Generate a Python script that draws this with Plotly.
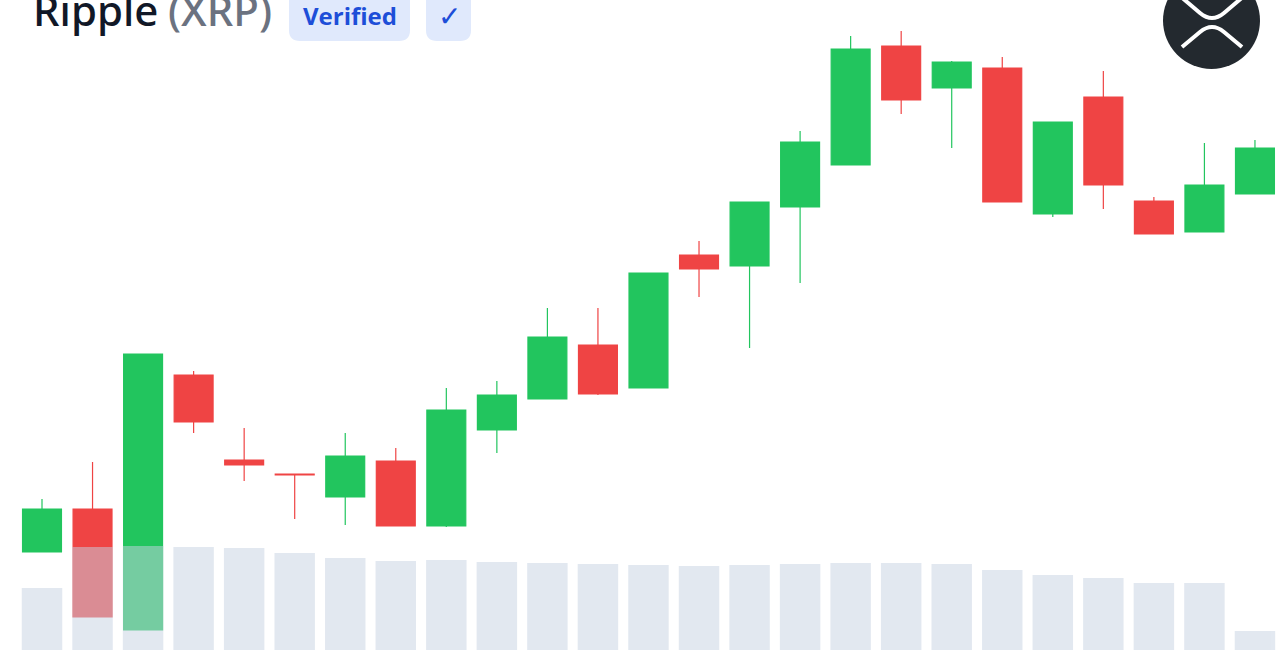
"""Ripple (XRP) candlestick card with volume bars."""

import plotly.graph_objects as go

WIDTH = 1280
HEIGHT = 650

# Candles (price axis runs 0-650)
opens = [98, 141, 20, 275, 190, 176, 153, 189, 124, 220, 251, 305, 262, 395, 384, 443, 485, 604, 562, 582, 436, 553, 449, 418, 456]
closes = [141, 33, 296, 228, 185, 175, 194, 124, 240, 255, 313, 256, 377, 381, 448, 508, 601, 550, 588, 448, 528, 465, 416, 465, 502]
highs = [151, 188, 296, 279, 222, 176, 217, 202, 262, 269, 342, 342, 377, 409, 448, 519, 614, 619, 589, 593, 528, 579, 453, 507, 510]
lows = [98, 33, 20, 217, 169, 131, 125, 124, 123, 197, 251, 255, 262, 353, 302, 367, 485, 536, 502, 448, 433, 441, 416, 418, 456]

# Volume bars (axis runs 0-650 as well)
volume = [62, 103, 104, 103, 102, 97, 92, 89, 90, 88, 87, 86, 85, 84, 85, 86, 87, 87, 86, 80, 75, 72, 67, 67, 19]

candle_index = list(range(len(opens)))

GREEN = "#22c55e"
RED = "#ef4444"
STEP = 50.54
FIRST_CENTER = 42


def px(x):
    return x / WIDTH


def py(y):
    return 1 - y / HEIGHT


def rounded_box(x0, y0, x1, y1, r):
    """SVG path of a rounded box, given in page pixels."""
    xa, xb, xc, xd = px(x0), px(x0 + r), px(x1 - r), px(x1)
    ya, yb, yc, yd = py(y0), py(y0 + r), py(y1 - r), py(y1)
    return (
        f"M {xb} {ya} L {xc} {ya} Q {xd} {ya} {xd} {yb} L {xd} {yc} Q {xd} {yd} {xc} {yd} "
        f"L {xb} {yd} Q {xa} {yd} {xa} {yc} L {xa} {yb} Q {xa} {ya} {xb} {ya} Z"
    )


def logo_stroke(points):
    """Straight, curve, straight stroke of the logo, in page pixels."""
    (a, b, c, d, e) = points
    return (
        f"M {px(a[0])} {py(a[1])} L {px(b[0])} {py(b[1])} "
        f"Q {px(c[0])} {py(c[1])} {px(d[0])} {py(d[1])} L {px(e[0])} {py(e[1])}"
    )


fig = go.Figure()

fig.add_trace(go.Candlestick(
    x=candle_index,
    open=opens,
    close=closes,
    high=highs,
    low=lows,
    whiskerwidth=0,
    increasing=dict(line=dict(color=GREEN, width=1.2), fillcolor=GREEN),
    decreasing=dict(line=dict(color=RED, width=1.2), fillcolor=RED),
    showlegend=False,
))

# Second y axis so the bars sit on top of the candles
fig.add_trace(go.Bar(
    x=candle_index,
    y=volume,
    yaxis="y2",
    marker=dict(color="rgb(199,211,227)", line=dict(width=0)),
    opacity=0.5,
    showlegend=False,
))

shapes = [
    dict(type="path", xref="paper", yref="paper", path=rounded_box(289, -12, 410, 41, 11),
         fillcolor="#e0e9fc", line=dict(width=0)),
    dict(type="path", xref="paper", yref="paper", path=rounded_box(426, -12, 471, 41, 11),
         fillcolor="#e0e9fc", line=dict(width=0)),
    dict(type="circle", xref="paper", yref="paper",
         x0=px(1163), x1=px(1260), y0=py(-28), y1=py(69),
         fillcolor="#23292f", line=dict(width=0)),
    dict(type="path", xref="paper", yref="paper",
         path=logo_stroke([(1180, -4), (1200, 13), (1212, 23), (1224, 13), (1244, -4)]),
         line=dict(color="white", width=4)),
    dict(type="path", xref="paper", yref="paper",
         path=logo_stroke([(1182, 47), (1200, 32), (1212, 22), (1224, 32), (1242, 47)]),
         line=dict(color="white", width=4)),
]

TITLE_FONT = "Noto Sans, Open Sans, sans-serif"
annotations = [
    dict(text="Ripple", x=px(31), y=py(10), font=dict(size=42, color="#111827", family=TITLE_FONT, weight=500)),
    dict(text="(XRP)", x=px(166), y=py(10), font=dict(size=42, color="#6b7280", family=TITLE_FONT, weight=500)),
    dict(text="<b>Verified</b>", x=px(301), y=py(15), font=dict(size=24, color="#1d4ed8")),
    dict(text="✓", x=px(436), y=py(15), font=dict(size=28, color="#1d4ed8")),
]
for note in annotations:
    note.update(xref="paper", yref="paper", xanchor="left", yanchor="middle", showarrow=False)

fig.update_layout(
    width=WIDTH,
    height=HEIGHT,
    margin=dict(l=0, r=0, t=0, b=0),
    paper_bgcolor="white",
    plot_bgcolor="white",
    font=dict(family="Open Sans, sans-serif"),
    boxgap=0.23,
    boxgroupgap=0,
    bargap=0.2,
    shapes=shapes,
    annotations=annotations,
    xaxis=dict(
        range=[-FIRST_CENTER / STEP, (WIDTH - FIRST_CENTER) / STEP],
        visible=False,
        rangeslider=dict(visible=False),
    ),
    yaxis=dict(range=[0, 650], visible=False),
    yaxis2=dict(range=[0, 650], visible=False, overlaying="y"),
)

# Default page margin would shift the figure by 8px
fig.write_html(
    "out.html",
    config={"displayModeBar": False},
    post_script="document.body.style.margin = '0';",
)
